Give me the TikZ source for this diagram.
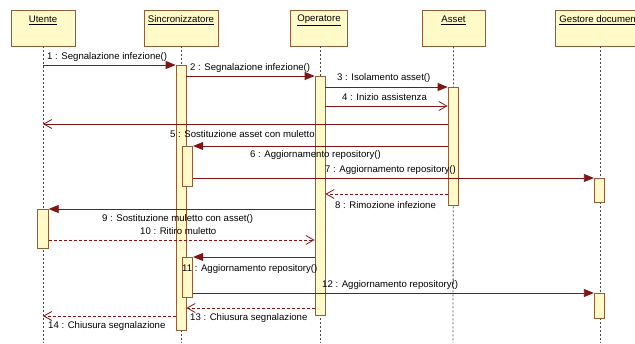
\documentclass[tikz,border=0pt]{standalone}
\usepackage{fontspec}
\setmainfont{Liberation Sans}
\usetikzlibrary{arrows.meta}
\definecolor{boxfill}{RGB}{255,250,200}
\definecolor{boxline}{RGB}{140,95,60}
\definecolor{msgcol}{RGB}{130,20,20}
\definecolor{lifecol}{RGB}{70,70,70}

\begin{document}
\begin{tikzpicture}[x=1pt,y=-1pt,
  every node/.style={font=\fontsize{9.6}{11}\selectfont, text=black},
  head/.style={draw=boxline, fill=boxfill, line width=0.8pt, minimum height=36pt, inner sep=0},
  headtxt/.style={inner sep=0},
  bar/.style={draw=boxline, fill=boxfill, line width=0.8pt, inner sep=0, minimum width=10.5pt},
  life/.style={draw=lifecol, line width=0.8pt, dash pattern=on 2pt off 2pt},
  sync/.style={draw=msgcol, line width=0.8pt, -{Triangle[length=10pt,width=8pt,fill=msgcol]}},
  async/.style={draw=msgcol, line width=0.8pt, -{Straight Barb[length=8pt,width=9pt,line width=0.8pt]}},
  reply/.style={async, dash pattern=on 3pt off 2pt},
  lbl/.style={anchor=west, inner sep=0}
]
\useasboundingbox (0,0) rectangle (635,343);
\clip (0,0) rectangle (635,343);
\fill[white] (0,0) rectangle (635,343);

% object headers
\node[head, minimum width=64pt] (uh) at (43,28) {};
\node[head, minimum width=74pt] (sh) at (181,28) {};
\node[head, minimum width=57pt] (oh) at (319,28) {};
\node[head, minimum width=63pt] (ah) at (453.5,28) {};
\node[head, minimum width=90pt] (gh) at (600,28) {};
\node[headtxt] (ut) at (43,20) {\underline{Utente}};
\node[headtxt] (st) at (181,20) {\underline{Sincronizzatore}};
\node[headtxt] (ot) at (319,20) {\underline{Operatore}};
\node[headtxt] (at) at (453.5,20) {\underline{Asset}};
\node[headtxt] (gt) at (600,20) {\underline{Gestore documenti}};

% lifelines
\coordinate (ue) at (43,343);
\coordinate (se) at (181,343);
\coordinate (oe) at (320,343);
\coordinate (ae) at (453,343);
\coordinate (ge) at (600,343);
\draw[life] (uh.south) -- (ue);
\draw[life] (sh.south) -- (se);
\draw[life] (320,46) -- (oe);
\draw[life] (ah.south) -- (ae);
\draw[life] (gh.south) -- (ge);

% activation bars
\node[bar, minimum height=39pt] (ub) at (43,228.5) {};
\node[bar, minimum width=10pt, minimum height=265pt] (sb) at (181,197.5) {};
\node[bar, minimum height=40pt] (sn1) at (187.5,166) {};
\node[bar, minimum height=40pt] (sn2) at (187.5,277) {};
\node[bar, minimum width=10pt, minimum height=239pt] (ob) at (320,195.5) {};
\node[bar, minimum width=10pt, minimum height=118pt] (ab) at (453,146) {};
\node[bar, minimum height=24pt] (gb1) at (599.5,190) {};
\node[bar, minimum height=25pt] (gb2) at (599.5,305.5) {};

% messages
\draw[sync] (uh.south |- 0,65) -- (sb.west |- 0,65);
\draw[sync] (sb.east |- 0,76) -- (ob.west |- 0,76);
\draw[sync] (ob.east |- 0,87) -- (ab.west |- 0,87);
\draw[async] (ob.east |- 0,106) -- (ab.west |- 0,106);
\draw[async] (ab.west |- 0,124) -- (uh.south |- 0,124);
\draw[sync] (ab.west |- 0,146) -- (sn1.east |- 0,146);
\draw[sync] (sn1.east |- 0,178) -- (gb1.west |- 0,178);
\draw[reply] (ab.west |- 0,194) -- (ob.east |- 0,194);
\draw[sync] (ob.west |- 0,209) -- (ub.east |- 0,209);
\draw[reply] (ub.east |- 0,240) -- (ob.west |- 0,240);
\draw[sync] (ob.west |- 0,257) -- (sn2.east |- 0,257);
\draw[sync] (sn2.east |- 0,293) -- (gb2.west |- 0,293);
\draw[reply] (ob.west |- 0,308) -- (sb.east |- 0,308);
\draw[reply] (sb.west |- 0,316) -- (uh.south |- 0,316);

% message labels
\node[lbl] (l1) at (47,57) {1 : Segnalazione infezione()};
\node[lbl] (l2) at (190,68) {2 : Segnalazione infezione()};
\node[lbl] (l3) at (337,78) {3 : Isolamento asset()};
\node[lbl] (l4) at (342,97) {4 : Inizio assistenza};
\node[lbl] (l5) at (170,134) {5 : Sostituzione asset con muletto};
\node[lbl] (l6) at (250,155) {6 : Aggiornamento repository()};
\node[lbl] (l7) at (325,170) {7 : Aggiornamento repository()};
\node[lbl] (l8) at (335,205) {8 : Rimozione infezione};
\node[lbl] (l9) at (102,219) {9 : Sostituzione muletto con asset()};
\node[lbl] (l10) at (140,231) {10 : Ritiro muletto};
\node[lbl] (l11) at (182,269) {11 : Aggiornamento repository()};
\node[lbl] (l12) at (322,285) {12 : Aggiornamento repository()};
\node[lbl] (l13) at (190,318) {13 : Chiusura segnalazione};
\node[lbl] (l14) at (48,326) {14 : Chiusura segnalazione};
\end{tikzpicture}
\end{document}
